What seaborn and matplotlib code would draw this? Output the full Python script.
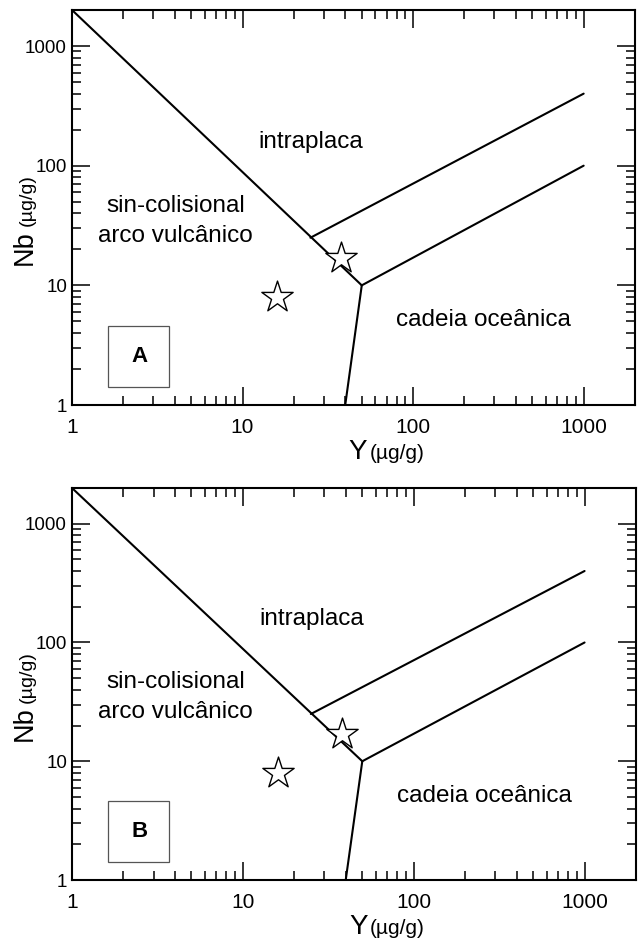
import matplotlib
matplotlib.use("Agg")
import matplotlib.pyplot as plt
import matplotlib.ticker as mticker
from matplotlib.patches import Rectangle
import seaborn as sns
import pandas as pd

sns.set_style("ticks")
plt.rcParams["font.family"] = ["Liberation Sans", "DejaVu Sans"]
plt.rcParams.update({
    "text.color": "black",
    "axes.labelcolor": "black",
    "xtick.color": "black",
    "ytick.color": "black",
    "axes.edgecolor": "black",
})

# Discrimination diagram boundaries (Y vs Nb, both in µg/g)
arc_boundary_y = [1, 50]
arc_boundary_nb = [2000, 10]
ridge_boundary_y = [50, 40]
ridge_boundary_nb = [10, 1]
wpg_lower_y = [50, 1000]
wpg_lower_nb = [10, 100]
wpg_upper_y = [25, 1000]
wpg_upper_nb = [25, 400]

# Samples
sample_y = [16, 38]
sample_nb = [8, 17]

tick_values = [1, 10, 100, 1000]
tick_labels = ["1", "10", "100", "1000"]
panel_letters = ["A", "B"]

segments = [
    (arc_boundary_y, arc_boundary_nb),
    (ridge_boundary_y, ridge_boundary_nb),
    (wpg_lower_y, wpg_lower_nb),
    (wpg_upper_y, wpg_upper_nb),
]

W, H = 644, 946
fig = plt.figure(figsize=(W / 100, H / 100), dpi=100)

panel_boxes = [
    (72, 10, 635, 405),
    (72, 488, 636, 880),
]


def draw_panel(ax, letter):
    ax.set_xscale("log")
    ax.set_yscale("log")
    for xs, ys in segments:
        seg = pd.DataFrame({"Y": xs, "Nb": ys})
        sns.lineplot(data=seg, x="Y", y="Nb", sort=False, estimator=None,
                     color="black", linewidth=1.5, ax=ax)
    pts = pd.DataFrame({"Y": sample_y, "Nb": sample_nb})
    sns.scatterplot(data=pts, x="Y", y="Nb", marker="*", s=560,
                    facecolor="white", edgecolor="black", linewidth=1.0,
                    ax=ax, zorder=5)
    ax.set_xlim(1, 2000)
    ax.set_ylim(1, 2000)
    ax.set_xlabel("")
    ax.set_ylabel("")

    for axis in (ax.xaxis, ax.yaxis):
        axis.set_major_locator(mticker.FixedLocator(tick_values))
        axis.set_major_formatter(mticker.FixedFormatter(tick_labels))
        axis.set_minor_locator(mticker.LogLocator(base=10, subs=range(2, 10), numticks=20))
        axis.set_minor_formatter(mticker.NullFormatter())
    ax.tick_params(which="both", direction="in", top=True, right=True,
                   width=1.1, color="black")
    ax.tick_params(which="major", length=13)
    ax.tick_params(which="minor", length=6.5)
    ax.tick_params(axis="x", which="major", labelsize=15, pad=9.5)
    ax.tick_params(axis="y", which="major", labelsize=13.5, pad=3.6)
    for sp in ax.spines.values():
        sp.set_visible(True)
        sp.set_linewidth(1.5)
        sp.set_color("black")

    # Field names
    fs = 17.5
    ax.text(25.2, 140, "intraplaca", fontsize=fs, ha="center", va="baseline")
    ax.text(4.05, 41, "sin-colisional", fontsize=fs, ha="center", va="baseline")
    ax.text(4.05, 23, "arco vulcânico", fontsize=fs, ha="center", va="baseline")
    ax.text(258, 4.57, "cadeia oceânica", fontsize=fs, ha="center", va="baseline")

    # Panel letter box
    ax.add_patch(Rectangle((0.064, 0.046), 0.108, 0.155, transform=ax.transAxes,
                           fill=False, edgecolor="#555555", linewidth=0.9))
    ax.text(0.12, 0.123, letter, transform=ax.transAxes, fontsize=16,
            fontweight="bold", ha="center", va="center")

    # Axis titles with smaller unit text
    ax.text(-0.071, 0.443, "Nb", transform=ax.transAxes, fontsize=19.5,
            rotation=90, rotation_mode="anchor", ha="right", va="baseline")
    ax.text(-0.071, 0.452, "(µg/g)", transform=ax.transAxes, fontsize=14,
            rotation=90, rotation_mode="anchor", ha="left", va="baseline")
    ax.text(0.524, -0.137, "Y", transform=ax.transAxes, fontsize=20,
            ha="right", va="baseline")
    ax.text(0.528, -0.137, "(µg/g)", transform=ax.transAxes, fontsize=15,
            ha="left", va="baseline")


for (l, t, r, b), letter in zip(panel_boxes, panel_letters):
    ax = fig.add_axes([l / W, (H - b) / H, (r - l) / W, (b - t) / H])
    draw_panel(ax, letter)

fig.savefig("out.png", dpi=100, facecolor="white")
